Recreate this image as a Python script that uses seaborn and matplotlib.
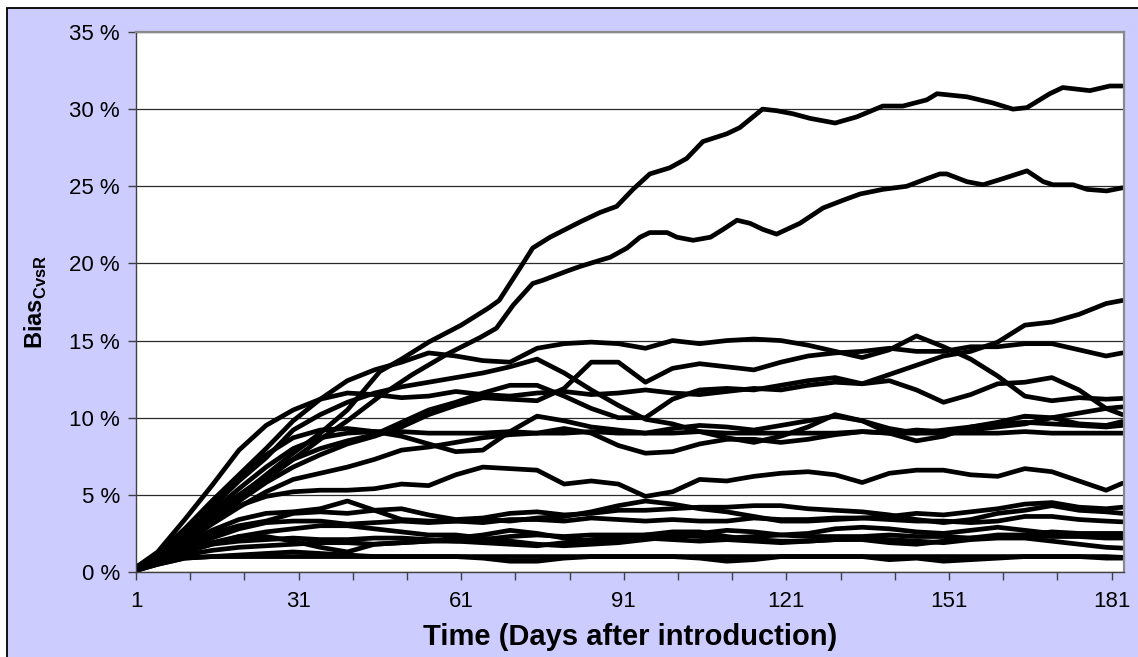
import numpy as np
import pandas as pd
import matplotlib
matplotlib.use("Agg")
import matplotlib.pyplot as plt
from matplotlib.patches import Rectangle
from matplotlib.ticker import FuncFormatter, FixedLocator
import seaborn as sns

# ---------------- data (bias in %) ----------------
days_grid = [1, 5, 10, 15, 20, 25, 30, 35, 40, 45, 50, 55, 60, 65, 70, 75, 80, 85, 90, 95,
             100, 105, 110, 115, 120, 125, 130, 135, 140, 145, 150, 155, 160, 165, 170, 175, 180, 183]

days_a = [1, 5, 10, 15, 20, 25, 30, 35, 40, 46, 50, 55, 61, 66, 68, 72.4, 74.2, 77.4, 83, 86.6,
          89.7, 92.7, 95.8, 99.5, 102.6, 105.6, 110, 112.4, 116.6, 119.2, 122.2, 125.4, 130, 134,
          138.8, 142.5, 146.9, 148.8, 154.3, 156.7, 159.1, 162.8, 165.4, 169.6, 172, 177, 180.7, 183]
bias_a = [0.3, 1.0, 2.1, 3.5, 4.9, 6.3, 7.7, 9.0, 10.5, 13.0, 13.8, 14.9, 16.0, 17.1, 17.6, 20.0,
          21.0, 21.7, 22.7, 23.3, 23.7, 24.8, 25.8, 26.2, 26.8, 27.9, 28.4, 28.8, 30.0, 29.9, 29.7,
          29.4, 29.1, 29.5, 30.2, 30.2, 30.6, 31.0, 30.8, 30.6, 30.4, 30.0, 30.1, 31.0, 31.4, 31.2,
          31.5, 31.5]

days_b = [1, 5, 10, 15, 20, 25, 30, 35, 40, 46, 52, 58.3, 64.5, 67.5, 70.6, 74.2, 76, 80.5, 82.9,
          86.6, 88.5, 91.6, 94, 95.8, 99, 100.8, 103.8, 107, 109.3, 111.9, 114.3, 116.7, 119.2,
          123.5, 127.8, 131.5, 134.6, 138.8, 143.2, 146.2, 149.3, 150.6, 154.3, 157.3, 161, 165.4,
          168.4, 170.2, 173.9, 176.5, 180.1, 183]
bias_b = [0.3, 1.0, 2.0, 3.3, 4.6, 6.0, 7.3, 8.6, 9.8, 11.4, 12.8, 14.1, 15.2, 15.8, 17.3, 18.7,
          18.9, 19.5, 19.8, 20.2, 20.4, 21.0, 21.7, 22.0, 22.0, 21.7, 21.5, 21.7, 22.2, 22.8, 22.6,
          22.2, 21.9, 22.6, 23.6, 24.1, 24.5, 24.8, 25.0, 25.4, 25.8, 25.8, 25.3, 25.1, 25.5, 26.0,
          25.3, 25.1, 25.1, 24.8, 24.7, 24.9]

bias_c = [0.3, 1.3, 3.4, 5.6, 7.9, 9.5, 10.5, 11.2, 11.6, 11.5, 11.3, 11.4, 11.7, 11.5, 11.4, 11.6,
          11.7, 11.5, 11.6, 11.8, 11.6, 11.5, 11.7, 11.9, 11.8, 12.1, 12.3, 12.2, 12.4, 11.8, 11.0,
          11.5, 12.2, 12.3, 12.6, 11.8, 10.6, 10.2]
bias_d = [0.3, 1.2, 2.8, 4.6, 6.3, 8.0, 9.8, 11.2, 12.4, 13.1, 13.6, 14.2, 14.0, 13.7, 13.6, 14.5,
          14.8, 14.9, 14.8, 14.5, 15.0, 14.8, 15.0, 15.1, 15.0, 14.7, 14.3, 13.9, 14.4, 15.3, 14.6,
          13.8, 12.7, 11.4, 11.1, 11.3, 11.2, 11.25]
bias_e = [0.2, 0.9, 2.0, 3.3, 4.6, 5.8, 6.8, 7.6, 8.3, 8.8, 9.4, 10.2, 10.8, 11.3, 11.2, 11.1,
          11.9, 13.6, 13.6, 12.3, 13.2, 13.5, 13.3, 13.1, 13.6, 14.0, 14.2, 14.3, 14.5, 14.3, 14.3,
          14.6, 14.6, 14.8, 14.8, 14.4, 14.0, 14.2]
bias_f = [0.3, 1.1, 2.6, 4.2, 5.9, 7.4, 9.2, 10.2, 11.0, 11.6, 12.0, 12.3, 12.6, 12.9, 13.3, 13.8,
          12.9, 11.8, 10.8, 9.9, 9.6, 9.1, 8.7, 8.4, 8.8, 9.4, 10.2, 9.8, 9.0, 8.5, 8.8, 9.4, 9.7,
          10.1, 10.0, 9.6, 9.5, 9.75]
bias_q = [0.2, 1.0, 2.3, 3.7, 5.0, 6.2, 7.3, 8.0, 8.5, 8.9, 9.7, 10.5, 11.0, 11.6, 12.1, 12.1,
          11.4, 10.6, 10.0, 10.0, 11.2, 11.8, 11.9, 11.8, 12.1, 12.4, 12.6, 12.2, 12.8, 13.4, 14.0,
          14.3, 14.9, 16.0, 16.2, 16.7, 17.4, 17.6]
bias_h = [0.2, 1.1, 2.6, 4.3, 6.0, 7.6, 8.7, 9.2, 9.3, 9.1, 9.1, 9.0, 9.0, 9.0, 9.1, 9.0, 9.0, 9.1,
          9.0, 9.0, 9.0, 9.1, 9.0, 9.0, 9.0, 9.0, 9.0, 9.1, 9.0, 9.0, 9.0, 9.0, 9.0, 9.1, 9.0, 9.0,
          9.0, 9.0]
bias_i = [0.2, 1.0, 2.4, 3.9, 5.4, 6.8, 8.0, 8.7, 9.0, 9.1, 8.8, 8.3, 7.8, 7.9, 9.1, 10.1, 9.8,
          9.4, 9.2, 9.0, 9.3, 9.5, 9.4, 9.2, 9.5, 9.8, 10.1, 9.8, 9.3, 9.0, 9.2, 9.4, 9.6, 9.7, 9.6,
          9.5, 9.4, 9.5]
bias_j = [0.2, 0.9, 1.9, 3.1, 4.2, 5.2, 6.0, 6.4, 6.8, 7.3, 7.9, 8.1, 8.4, 8.7, 8.9, 9.0, 9.3,
          9.0, 8.2, 7.7, 7.8, 8.3, 8.6, 8.6, 8.4, 8.6, 8.9, 9.1, 9.0, 9.2, 9.1, 9.2, 9.4, 9.6, 10.0,
          10.3, 10.6, 10.7]
bias_k = [0.2, 0.9, 2.0, 3.2, 4.3, 4.9, 5.2, 5.3, 5.3, 5.4, 5.7, 5.6, 6.3, 6.8, 6.7, 6.6, 5.7,
          5.9, 5.7, 4.9, 5.2, 6.0, 5.9, 6.2, 6.4, 6.5, 6.3, 5.8, 6.4, 6.6, 6.6, 6.3, 6.2, 6.7, 6.5,
          5.9, 5.3, 5.75]
bias_m1 = [0.2, 0.9, 1.8, 2.7, 3.4, 3.8, 3.9, 4.1, 4.6, 4.0, 3.4, 3.3, 3.3, 3.4, 3.3, 3.5, 3.6,
           3.9, 4.3, 4.6, 4.4, 4.1, 3.9, 3.6, 3.3, 3.3, 3.4, 3.5, 3.6, 3.8, 3.7, 3.9, 4.1, 4.4, 4.5,
           4.2, 4.1, 4.2]
bias_m2 = [0.2, 0.9, 1.7, 2.5, 3.0, 3.3, 3.8, 3.9, 3.8, 4.0, 4.1, 3.7, 3.4, 3.5, 3.8, 3.9, 3.7,
           3.8, 4.0, 4.0, 4.1, 4.2, 4.2, 4.3, 4.3, 4.1, 4.0, 3.9, 3.7, 3.4, 3.2, 3.4, 3.8, 4.0, 4.3,
           4.0, 3.9, 3.8]
bias_m3 = [0.2, 0.8, 1.5, 2.2, 2.8, 3.2, 3.3, 3.3, 3.1, 3.2, 3.3, 3.2, 3.3, 3.2, 3.4, 3.4, 3.3,
           3.5, 3.4, 3.3, 3.4, 3.3, 3.3, 3.5, 3.4, 3.4, 3.5, 3.5, 3.4, 3.3, 3.3, 3.2, 3.3, 3.6, 3.6,
           3.4, 3.3, 3.25]
bias_m4 = [0.1, 0.8, 1.4, 1.9, 2.3, 2.3, 2.0, 1.6, 1.3, 1.8, 1.9, 2.0, 2.2, 2.4, 2.7, 2.5, 2.2,
           2.0, 2.1, 2.4, 2.6, 2.6, 2.3, 2.1, 2.0, 2.0, 2.1, 2.1, 1.9, 1.8, 2.0, 2.2, 2.3, 2.4, 2.6,
           2.5, 2.5, 2.5]
bias_m5 = [0.1, 0.7, 1.3, 1.8, 2.0, 2.1, 2.2, 2.1, 2.1, 2.2, 2.2, 2.1, 2.0, 2.1, 2.3, 2.4, 2.3,
           2.4, 2.4, 2.4, 2.4, 2.3, 2.2, 2.3, 2.4, 2.3, 2.3, 2.3, 2.4, 2.3, 2.3, 2.2, 2.4, 2.4, 2.3,
           2.3, 2.2, 2.2]
bias_m6 = [0.1, 0.6, 1.1, 1.4, 1.6, 1.7, 1.8, 1.9, 1.9, 1.8, 1.9, 2.0, 2.0, 1.9, 1.8, 1.7, 1.9,
           2.1, 2.2, 2.2, 2.1, 2.0, 2.1, 2.0, 1.9, 2.0, 2.1, 2.2, 2.1, 2.0, 1.9, 2.1, 2.2, 2.2, 2.0,
           1.8, 1.6, 1.55]
bias_m7 = [0.1, 0.5, 0.9, 1.0, 1.0, 1.0, 1.0, 1.0, 1.0, 1.0, 1.0, 1.0, 1.0, 1.0, 1.0, 1.0, 1.0,
           1.0, 1.0, 1.0, 1.0, 1.0, 1.0, 1.0, 1.0, 1.0, 1.0, 1.0, 1.0, 1.0, 1.0, 1.0, 1.0, 1.0, 1.0,
           1.0, 1.0, 0.95]
bias_m8 = [0.1, 0.5, 0.9, 1.0, 1.1, 1.2, 1.3, 1.2, 1.1, 1.0, 1.0, 1.0, 1.0, 0.9, 0.7, 0.7, 0.9,
           1.0, 1.0, 1.0, 1.0, 0.9, 0.7, 0.8, 1.0, 1.0, 1.0, 1.0, 0.8, 0.9, 0.7, 0.8, 0.9, 1.0, 1.0,
           1.0, 0.9, 0.9]
bias_m9 = [0.1, 0.7, 1.3, 1.8, 2.3, 2.6, 2.8, 3.0, 3.0, 2.8, 2.6, 2.4, 2.4, 2.2, 2.0, 1.8, 1.7,
           1.8, 1.9, 2.1, 2.3, 2.5, 2.7, 2.6, 2.4, 2.5, 2.8, 2.9, 2.8, 2.6, 2.5, 2.7, 2.9, 2.7, 2.5,
           2.4, 2.4, 2.4]

x_tick_days = list(range(1, 182, 10))
x_label_days = [1, 31, 61, 91, 121, 151, 181]
y_ticks = [0, 5, 10, 15, 20, 25, 30, 35]

# ---------------- long table for seaborn ----------------
series = {"a": (days_a, bias_a), "b": (days_b, bias_b)}
for name, vals in [("c", bias_c), ("d", bias_d), ("e", bias_e), ("f", bias_f), ("q", bias_q),
                   ("h", bias_h), ("i", bias_i), ("j", bias_j), ("k", bias_k),
                   ("m1", bias_m1), ("m2", bias_m2), ("m3", bias_m3), ("m4", bias_m4),
                   ("m5", bias_m5), ("m6", bias_m6), ("m7", bias_m7), ("m8", bias_m8),
                   ("m9", bias_m9)]:
    series[name] = (days_grid, vals)

rows = []
for name, (dd, vv) in series.items():
    for d, v in zip(dd, vv):
        rows.append((name, d, v))
df = pd.DataFrame(rows, columns=["run", "day", "bias"])

# ---------------- styling ----------------
sns.set_theme(style="white")
plt.rcParams["font.family"] = ["Liberation Sans", "DejaVu Sans"]
plt.rcParams["mathtext.fontset"] = "custom"
plt.rcParams["mathtext.rm"] = "Liberation Sans"
plt.rcParams["mathtext.bf"] = "Liberation Sans:bold"

W, H = 1138, 657
fig = plt.figure(figsize=(W / 100, H / 100), dpi=100)
fig.patch.set_facecolor("white")
bg = Rectangle((7 / W, -0.02), 1.05, 1 - 8 / H + 0.02, transform=fig.transFigure,
               facecolor="#CCCCFF", edgecolor="black", linewidth=1.3, zorder=0)
fig.add_artist(bg)

left, right, top, bottom = 136, 1124, 32, 572
ax = fig.add_axes([left / W, 1 - bottom / H, (right - left) / W, (bottom - top) / H])
ax.set_facecolor("white")

sns.lineplot(data=df, x="day", y="bias", units="run", estimator=None, color="black",
             linewidth=3.4, ax=ax, legend=False, sort=True,
             solid_joinstyle="round", solid_capstyle="round")

ax.set_xlim(1, 183.3)
ax.set_ylim(0, 35)

ax.yaxis.set_major_locator(FixedLocator(y_ticks))
ax.yaxis.set_major_formatter(FuncFormatter(lambda v, p: f"{v:.0f} %"))
ax.xaxis.set_major_locator(FixedLocator(x_tick_days))
ax.xaxis.set_major_formatter(FuncFormatter(
    lambda v, p: f"{int(round(v))}" if int(round(v)) in x_label_days else ""))

ax.tick_params(axis="both", direction="out", length=5.5, width=1.0, color="#404040",
               labelsize=16, labelcolor="black")
ax.tick_params(axis="y", pad=6, left=True)
ax.tick_params(axis="x", pad=8, bottom=True)

ax.grid(axis="y", color="#2a2a2a", linewidth=0.9)
ax.grid(axis="x", visible=False)
ax.set_axisbelow(True)

for s in ["top", "right"]:
    ax.spines[s].set_color("#8a8a8a")
    ax.spines[s].set_linewidth(1.6)
for s in ["left", "bottom"]:
    ax.spines[s].set_color("#404040")
    ax.spines[s].set_linewidth(1.0)

ax.set_xlabel("Time (Days after introduction)", fontsize=21, fontweight="bold", color="black")
ax.set_ylabel(r"$\mathbf{Bias}_{\mathbf{CvsR}}$", fontsize=17, color="black")
ax.xaxis.set_label_coords(0.5, -0.095)
ax.yaxis.set_label_coords(-0.088, 0.5)

fig.savefig("out.png", dpi=100, facecolor=fig.get_facecolor())
